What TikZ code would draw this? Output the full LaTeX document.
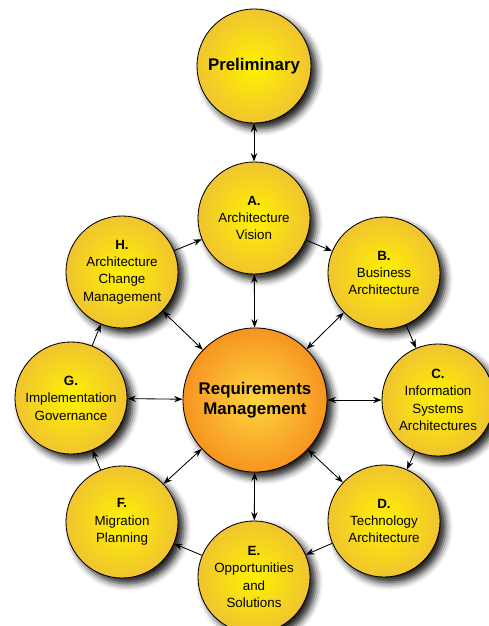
\documentclass[tikz,border=0pt]{standalone}
\usepackage{fontspec}
\setmainfont{Liberation Sans}
\usepackage{xcolor}
\usetikzlibrary{shapes.geometric, arrows.meta, shadows.blur}
\definecolor{sunin}{RGB}{255,242,0}
\definecolor{sunout}{RGB}{240,196,48}
\definecolor{reqin}{RGB}{255,214,64}
\definecolor{reqout}{RGB}{246,148,32}
\tikzstyle{arrow} = [semithick,->,>={Stealth[length=6pt,width=4.5pt]}]

\begin{document}
\begin{tikzpicture}
        [
            x=0.025cm, y=-0.025cm,
            phase/.style={circle,draw=black,semithick,inner sep=0pt,minimum size=2.8cm,
                shading=radial,inner color=sunin,outer color=sunout,
                align=center,font=\fontsize{9.5}{12.4}\selectfont,
                blur shadow={shadow xshift=4pt,shadow yshift=-4pt,shadow blur radius=5pt,shadow opacity=90}},
        ]
    \useasboundingbox (0,0) rectangle (488,626);

    \node[phase,minimum size=2.85cm,font=\bfseries\large] (prel) at (254,66){Preliminary};
    \node[phase] (a) at (254,218){\textbf{A.}\\Architecture\\Vision};
    \node[phase] (b) at (384,273){\textbf{B.}\\Business\\Architecture};
    \node[phase] (c) at (438,400){\textbf{C.}\\Information\\Systems\\Architectures};
    \node[phase] (d) at (384,521){\textbf{D.}\\Technology\\Architecture};
    \node[phase] (e) at (254,577){\textbf{E.}\\Opportunities\\and\\Solutions};
    \node[phase] (f) at (122,522){\textbf{F.}\\Migration\\Planning};
    \node[phase] (g) at (71,398){\textbf{G.}\\Implementation\\Governance};
    \node[phase] (h) at (122,272){\textbf{H.}\\Architecture\\Change\\Management};
    \node[phase,minimum size=3.6cm,inner color=reqin,outer color=reqout,font=\bfseries\large] (req) at (255,400){Requirements\\Management};

    \draw[arrow,<->] (prel) -- (a);
    \foreach \s/\t in {a/b,b/c,c/d,d/e,e/f,f/g,g/h,h/a}
        \draw[arrow] (\s) -- (\t);
    \foreach \n in {a,b,c,d,e,f,g,h}
        \draw[arrow,<->] (req) -- (\n);
\end{tikzpicture}
\end{document}
